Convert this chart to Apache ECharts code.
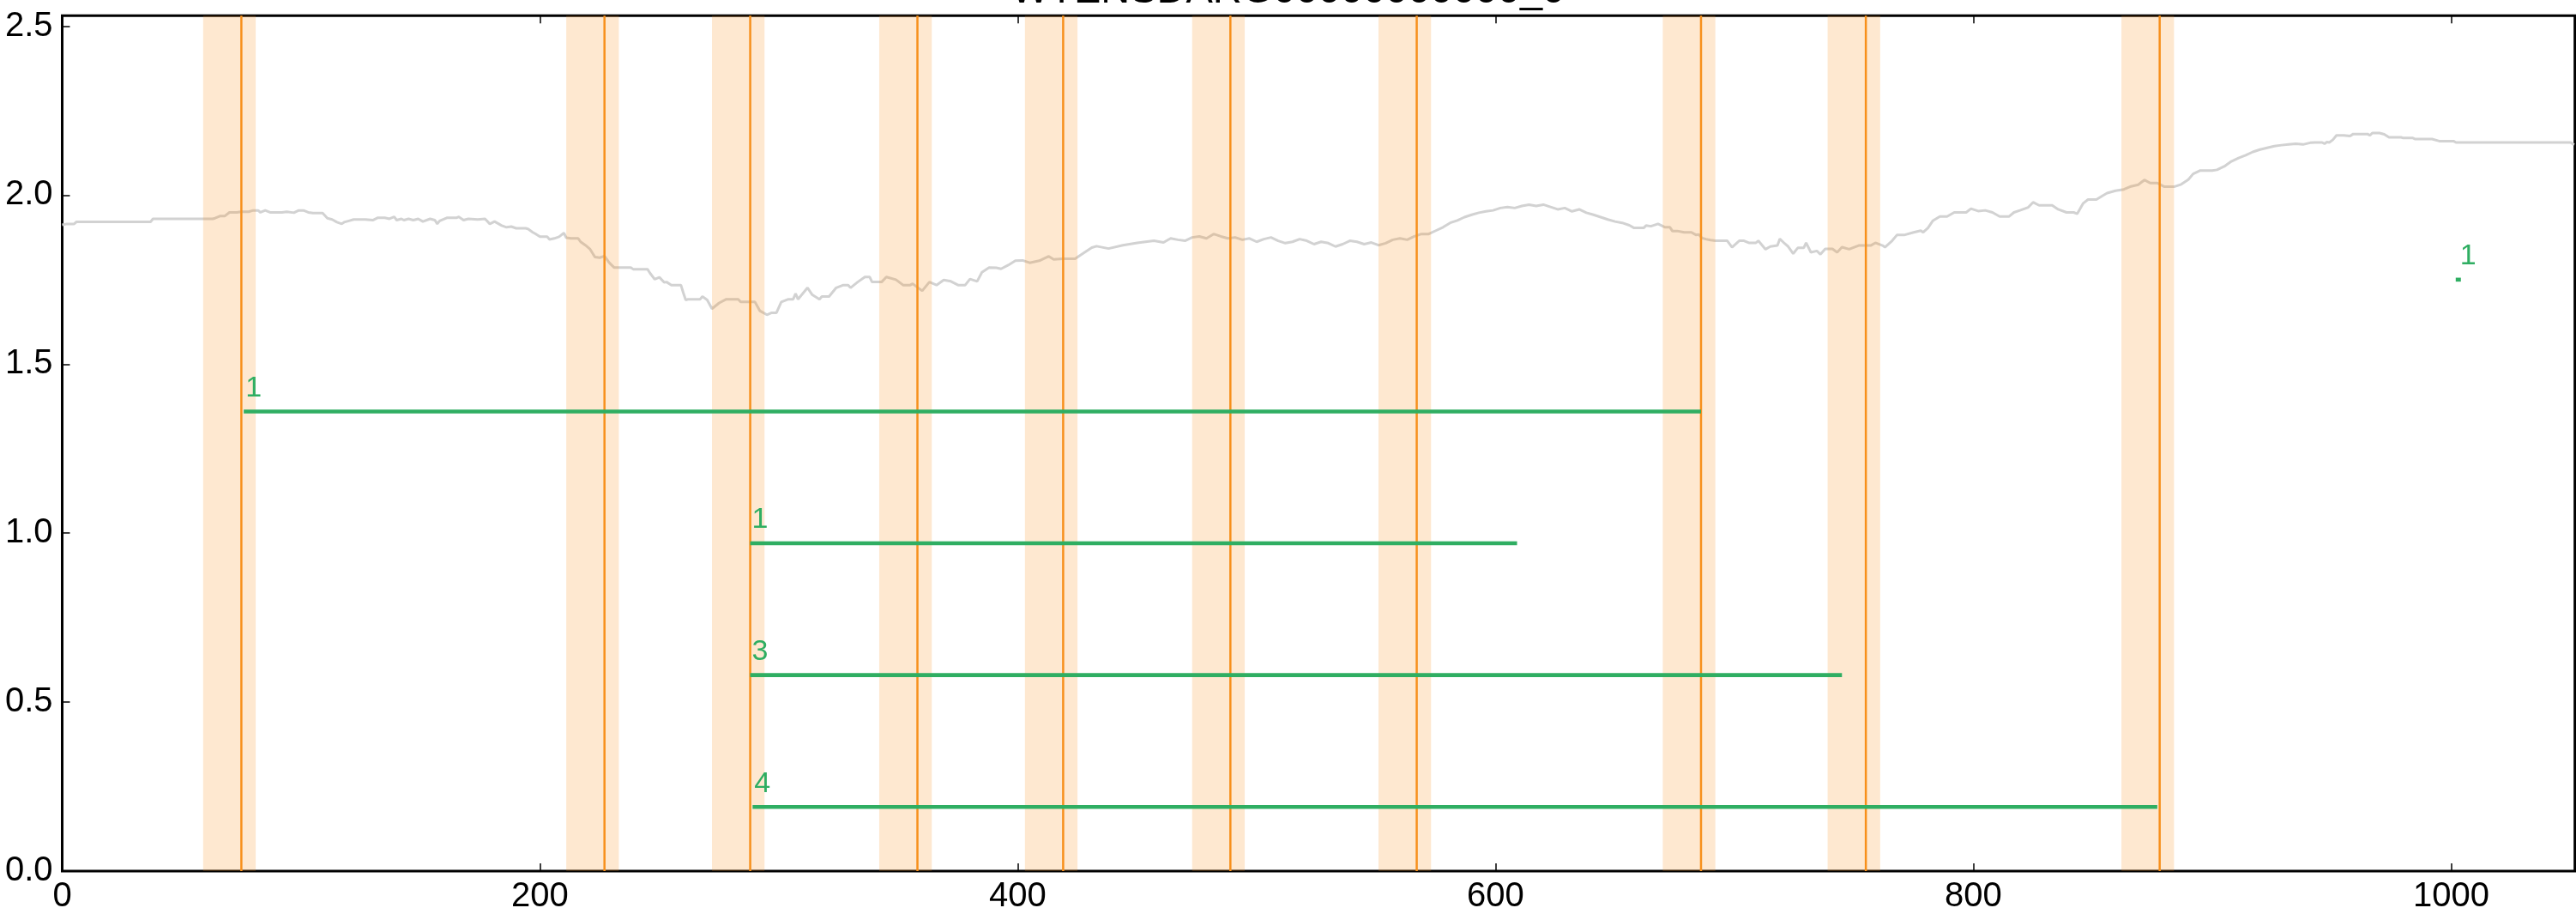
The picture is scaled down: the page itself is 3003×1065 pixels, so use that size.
<!DOCTYPE html>
<html>
<head>
<meta charset="utf-8">
<script src="https://cdn.jsdelivr.net/npm/echarts@6/dist/echarts.min.js"></script>
<style>html,body{margin:0;padding:0;background:#fff}#c{width:3003px;height:1065px}</style>
</head>
<body>
<div id="c"></div>
<script>
const titleText = 'WTENSDARG00000000000_0';
const xTicks = [0, 200, 400, 600, 800, 1000];
const yTicks = [0.0, 0.5, 1.0, 1.5, 2.0, 2.5];
const xMax = 1051.8;
const yMax = 2.531;

// grey trace
const trendX = [0,2,5,6,37,38,63,64,66,68,70,73,75,78,80,82,83,85,87,92,94,97,99,101,103,105,109,111,113,115,117,118,120,122,127,130,132,135,137,139,140,142,143,145,147,149,151,154,156,157,158,161,165,166,168,170,174,177,179,181,184,186,188,190,194,195,197,198,200,203,204,206,208,210,211,213,216,217,219,221,223,225,227,229,231,238,239,245,246,248,250,252,253,255,259,260,261,262,267,268,270,272,275,278,283,284,290,292,295,297,299,301,304,306,307,308,310,312,314,317,318,321,324,327,329,330,333,336,338,339,343,345,349,352,355,356,360,363,366,369,372,375,378,380,383,385,388,391,393,396,399,402,405,409,413,415,419,424,428,431,433,438,444,450,457,461,464,467,470,473,476,479,482,485,488,491,494,497,500,503,506,509,512,515,518,521,524,527,530,533,536,539,542,545,548,551,554,557,560,563,566,569,572,575,578,581,584,587,590,593,596,599,602,605,608,611,614,617,620,623,626,629,632,635,638,641,644,647,650,653,656,658,662,663,665,668,671,673,674,676,679,682,684,685,686.5,688,690,692,697,699,702,704,706,709,710,713,715,718,719,721,722.5,724.6,726.5,729,730,732,734.5,736,738,741,743,745,748,752,757,759,762,763,766,768,771,775,778,779,781,783,786,789,792,797,799,802,805,808,811,815,817,819.5,823,825,827.5,833,835.5,839,842,843.5,846,848,851.5,854,856,859.5,863,866,869,871.6,874,877,880,884,887,890,892,895,900,902,905,908,911,914,917,920,923,926,929,932,935,938,941,943,946,947,948,949,950.5,952,955,957.7,959,965,966,967,970,972,974,979,980,984,985,992,995,1001,1002,1050,1051.5];
const trendY = [1.912,1.915,1.915,1.921,1.921,1.93,1.93,1.932,1.938,1.938,1.949,1.949,1.951,1.951,1.955,1.955,1.949,1.955,1.949,1.949,1.951,1.948,1.955,1.955,1.949,1.947,1.947,1.932,1.928,1.92,1.915,1.92,1.924,1.928,1.928,1.926,1.933,1.933,1.93,1.936,1.926,1.93,1.926,1.93,1.926,1.93,1.922,1.93,1.926,1.915,1.924,1.933,1.933,1.936,1.926,1.93,1.928,1.93,1.915,1.922,1.91,1.905,1.907,1.902,1.902,1.9,1.89,1.886,1.877,1.877,1.869,1.872,1.877,1.888,1.874,1.872,1.872,1.862,1.852,1.84,1.817,1.815,1.82,1.8,1.786,1.786,1.781,1.781,1.77,1.751,1.757,1.742,1.743,1.734,1.734,1.711,1.69,1.692,1.692,1.7,1.69,1.664,1.681,1.692,1.692,1.684,1.684,1.658,1.646,1.652,1.652,1.684,1.692,1.692,1.709,1.692,1.709,1.726,1.705,1.692,1.7,1.7,1.726,1.734,1.734,1.726,1.743,1.758,1.758,1.743,1.743,1.758,1.75,1.734,1.734,1.738,1.717,1.743,1.734,1.749,1.745,1.734,1.734,1.752,1.745,1.772,1.786,1.785,1.782,1.793,1.806,1.807,1.8,1.806,1.819,1.81,1.812,1.812,1.831,1.845,1.849,1.842,1.852,1.859,1.865,1.86,1.872,1.868,1.865,1.875,1.878,1.872,1.885,1.878,1.872,1.875,1.868,1.872,1.862,1.87,1.875,1.865,1.858,1.862,1.87,1.865,1.855,1.862,1.858,1.848,1.855,1.865,1.862,1.855,1.86,1.852,1.858,1.868,1.872,1.868,1.878,1.885,1.885,1.895,1.905,1.918,1.925,1.935,1.942,1.948,1.952,1.955,1.962,1.965,1.962,1.968,1.972,1.968,1.972,1.965,1.958,1.962,1.952,1.958,1.948,1.942,1.935,1.928,1.922,1.918,1.911,1.903,1.903,1.91,1.908,1.915,1.905,1.905,1.894,1.894,1.89,1.89,1.882,1.884,1.873,1.87,1.867,1.865,1.865,1.846,1.865,1.865,1.859,1.859,1.865,1.84,1.848,1.851,1.871,1.857,1.848,1.827,1.844,1.844,1.859,1.831,1.835,1.825,1.841,1.841,1.831,1.846,1.84,1.851,1.851,1.859,1.851,1.846,1.865,1.882,1.882,1.89,1.895,1.89,1.903,1.924,1.937,1.937,1.949,1.949,1.96,1.953,1.955,1.949,1.937,1.937,1.949,1.955,1.964,1.979,1.97,1.97,1.958,1.949,1.949,1.945,1.976,1.987,1.987,1.998,2.006,2.013,2.017,2.026,2.031,2.045,2.036,2.036,2.025,2.025,2.032,2.046,2.063,2.073,2.073,2.075,2.085,2.1,2.11,2.118,2.128,2.135,2.14,2.145,2.148,2.15,2.152,2.15,2.155,2.156,2.156,2.152,2.157,2.156,2.164,2.177,2.177,2.175,2.181,2.181,2.177,2.184,2.184,2.18,2.171,2.171,2.169,2.169,2.166,2.166,2.16,2.16,2.156,2.156,2.149];

// orange events: shaded window and event line
const bandStart = [59, 211, 272, 342, 403, 473, 551, 670, 739, 862];
const bandEnd   = [81, 233, 294, 364, 425, 495, 573, 692, 761, 884];
const eventX    = [75, 227, 288, 358, 419, 489, 567, 686, 755, 878];

// green segments
const segStart = [76, 288, 288, 289, 1003];
const segEnd   = [686, 609, 745, 877, 1003];
const segLevel = [1.36, 0.97, 0.58, 0.19, 1.75];
const segLabel = ['1', '1', '3', '4', '1'];

const FONT = '"Liberation Sans", Arial, Helvetica, sans-serif';
const trendData = trendX.map((x, i) => [x, trendY[i]]);
const bandData = bandStart.map((s, i) => [s, bandEnd[i], eventX[i]]);
const segData = segStart.map((s, i) => [s, segEnd[i], segLevel[i]]);

const chart = echarts.init(document.getElementById('c'), null, {renderer: 'canvas'});
chart.setOption({
  animation: false,
  backgroundColor: '#ffffff',
  title: {
    text: titleText,
    left: 'center',
    top: -33,
    padding: [0, 0, 0, 72],
    textStyle: {fontFamily: FONT, fontSize: 47, fontWeight: 'normal', color: '#000'}
  },
  grid: {
    left: 72.5, top: 18.3, right: 1.3, bottom: 46.3,
    show: true, borderColor: '#000', borderWidth: 3, backgroundColor: 'transparent'
  },
  xAxis: [{
    type: 'value', min: 0, max: xMax, interval: 200,
    axisLine: {show: false},
    axisTick: {show: true, inside: true, length: 9, lineStyle: {color: '#000', width: 1.5}},
    axisLabel: {show: true, showMaxLabel: false, margin: 10, fontFamily: FONT, fontSize: 40, color: '#000',
      formatter: v => xTicks.includes(v) ? String(v) : ''},
    splitLine: {show: false}
  }, {
    type: 'value', position: 'top', min: 0, max: xMax, interval: 200,
    axisLine: {show: false},
    axisTick: {show: true, inside: true, length: 9, lineStyle: {color: '#000', width: 1.5}},
    axisLabel: {show: false},
    splitLine: {show: false}
  }],
  yAxis: [{
    type: 'value', min: 0, max: yMax, interval: 0.5,
    axisLine: {show: false},
    axisTick: {show: true, inside: true, length: 9, lineStyle: {color: '#000', width: 1.5}},
    axisLabel: {show: true, showMaxLabel: false, margin: 11, fontFamily: FONT, fontSize: 40, color: '#000',
      formatter: v => yTicks.includes(v) ? v.toFixed(1) : ''},
    splitLine: {show: false}
  }],
  series: [
    {
      type: 'line', name: 'trace', data: trendData, xAxisIndex: 0, yAxisIndex: 0,
      symbol: 'none', z: 1,
      lineStyle: {color: '#d2d2d2', width: 3}
    },
    {
      type: 'custom', name: 'events', data: bandData, z: 2, xAxisIndex: 0, yAxisIndex: 0,
      encode: {x: [0, 1, 2]},
      renderItem: function (params, api) {
        const s = api.value(0), e = api.value(1), l = api.value(2);
        const a = api.coord([s, yMax]);
        const b = api.coord([e, 0]);
        const la = api.coord([l, yMax]);
        const lb = api.coord([l, 0]);
        return {
          type: 'group',
          children: [
            {type: 'rect', shape: {x: a[0], y: a[1], width: b[0] - a[0], height: b[1] - a[1]},
             style: {fill: 'rgba(250,140,20,0.2)'}},
            {type: 'line', shape: {x1: la[0], y1: la[1], x2: lb[0], y2: lb[1]},
             style: {stroke: '#f7901c', lineWidth: 2.5}}
          ]
        };
      }
    },
    {
      type: 'custom', name: 'segments', data: segData, z: 3, xAxisIndex: 0, yAxisIndex: 0,
      encode: {x: [0, 1], y: 2},
      renderItem: function (params, api) {
        const s = api.value(0), e = api.value(1), lv = api.value(2);
        const p = api.coord([s, lv]);
        const q = api.coord([e, lv]);
        let w = q[0] - p[0];
        let x0 = p[0];
        if (w < 6) { x0 = p[0] - 3; w = 6; }
        return {
          type: 'group',
          children: [
            {type: 'rect', shape: {x: x0, y: p[1] - 2.3, width: w, height: 4.6},
             style: {fill: '#2fae62'}},
            {type: 'text', x: p[0] + 2, y: p[1] - 10,
             style: {text: segLabel[params.dataIndex], fill: '#2fae62',
                     font: '34px ' + FONT, textAlign: 'left', textVerticalAlign: 'bottom'}}
          ]
        };
      }
    }
  ]
});
</script>
</body>
</html>
